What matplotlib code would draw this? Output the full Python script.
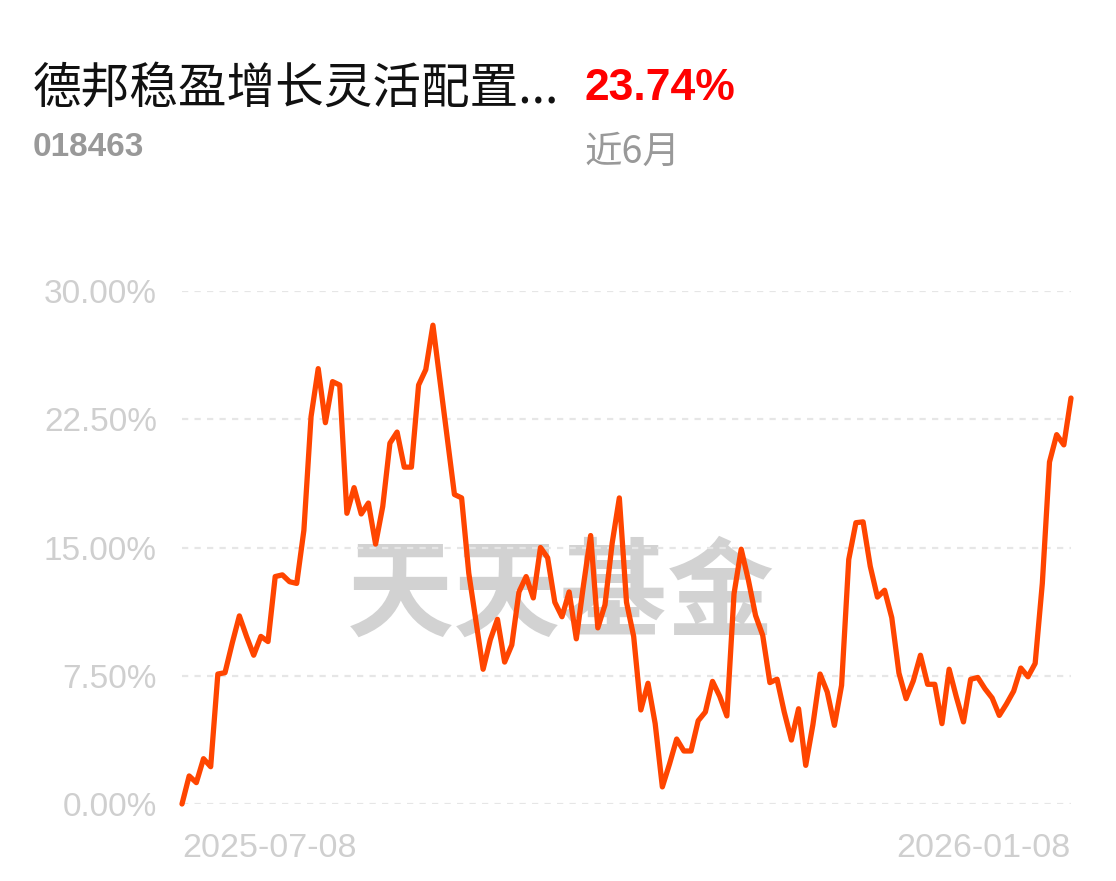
import matplotlib
matplotlib.use('Agg')
import matplotlib.pyplot as plt

plt.rcParams['font.family'] = ['Noto Sans CJK SC', 'DejaVu Sans']
plt.rcParams['lines.scale_dashes'] = False

# fund info
fund_name = '德邦稳盈增长灵活配置...'
fund_code = '018463'
period_label = '近6月'
period_return = '23.74%'
watermark = '天天基金'

# cumulative return (%) over the last 6 months
returns = [0, 1.64, 1.25, 2.65, 2.18, 7.6, 7.68, 9.4, 11.0, 9.8, 8.7, 9.8, 9.5,
           13.3, 13.4, 13.0, 12.9, 16.0, 22.65, 25.46, 22.3, 24.7, 24.5, 17.0,
           18.5, 16.96, 17.6, 15.2, 17.4, 21.1, 21.75, 19.7, 19.7, 24.5, 25.4,
           28.0, 24.7, 21.4, 18.1, 17.9, 13.5, 10.7, 7.88, 9.6, 10.8, 8.3, 9.3,
           12.4, 13.3, 12.05, 15.0, 14.4, 11.8, 10.95, 12.4, 9.66, 12.8, 15.7,
           10.3, 11.65, 15.25, 17.9, 11.8, 9.8, 5.5, 7.06, 4.7, 1.0, 2.34, 3.8,
           3.1, 3.1, 4.87, 5.38, 7.17, 6.3, 5.15, 12.3, 14.9, 13.1, 11.03, 9.86,
           7.1, 7.3, 5.38, 3.74, 5.57, 2.26, 4.64, 7.6, 6.55, 4.6, 6.94, 14.3,
           16.45, 16.5, 13.9, 12.1, 12.5, 10.9, 7.66, 6.16, 7.2, 8.7, 7.0, 7.0,
           4.7, 7.88, 6.27, 4.8, 7.29, 7.4, 6.74, 6.2, 5.18, 5.85, 6.6, 7.95,
           7.44, 8.22, 12.9, 20.0, 21.6, 21.0, 23.74]
start_date = '2025-07-08'
end_date = '2026-01-08'
y_ticks = [0, 7.5, 15, 22.5, 30]
y_tick_labels = ['0.00%', '7.50%', '15.00%', '22.50%', '30.00%']

W, H = 1116, 881
fig = plt.figure(figsize=(W / 100, H / 100), dpi=100)
fig.patch.set_facecolor('white')


def fx(px):
    return px / W


def fy(py):
    return 1 - py / H


ax = fig.add_axes([fx(182), fy(804), fx(1071) - fx(182), fy(291) - fy(804)])
x = list(range(len(returns)))
ax.plot(x, returns, color='#ff4500', lw=3.8, solid_joinstyle='round',
        solid_capstyle='round', clip_on=False, zorder=3)
ax.set_xlim(0, len(returns) - 1)
ax.set_ylim(0, 30)

# dashed grid
for t in y_ticks:
    ax.axhline(t, color='#e6e6e6', lw=1.6, dashes=(4.5, 4.5), zorder=1)

ax.set_yticks(y_ticks)
ax.set_yticklabels(y_tick_labels, family=['Liberation Sans', 'DejaVu Sans'],
                   fontsize=24, color='#cfcfcf')
ax.tick_params(axis='y', length=0, pad=18)
ax.set_xticks([])
for s in ax.spines.values():
    s.set_visible(False)

# date labels
ax.text(0, -0.087, start_date, transform=ax.transAxes, ha='left', va='center',
        family=['Liberation Sans', 'DejaVu Sans'], fontsize=24.5, color='#cfcfcf')
ax.text(1, -0.087, end_date, transform=ax.transAxes, ha='right', va='center',
        family=['Liberation Sans', 'DejaVu Sans'], fontsize=24.5, color='#cfcfcf')

# watermark
ax.text(0.4265, 0.405, watermark, transform=ax.transAxes, ha='center', va='center',
        fontsize=77, fontweight='bold', color='#d2d2d2', zorder=0)

# header
fig.text(fx(33), fy(89), fund_name, ha='left', va='center', fontsize=35,
         color='#111111')
fig.text(fx(584), fy(89), period_return, ha='left', va='center', fontsize=32,
         fontweight='bold', color='#ff0000',
         family=['Liberation Sans', 'DejaVu Sans'])
fig.text(fx(33), fy(147), fund_code, ha='left', va='center', fontsize=24,
         fontweight='bold', color='#999999',
         family=['Liberation Sans', 'DejaVu Sans'])
fig.text(fx(585), fy(152), period_label, ha='left', va='center', fontsize=27,
         color='#999999')

fig.savefig('out.png', dpi=100, facecolor='white')
